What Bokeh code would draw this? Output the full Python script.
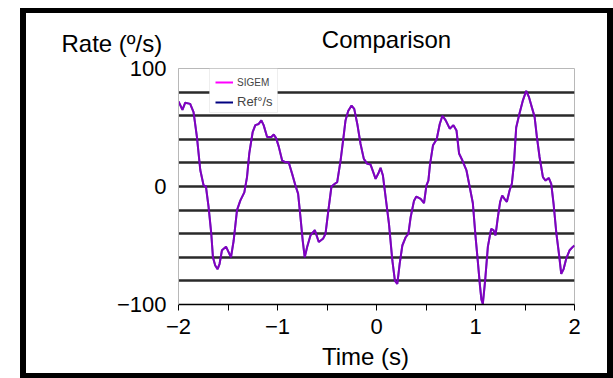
from bokeh.plotting import figure
from bokeh.models import (Range1d, FixedTicker, Label, Legend, LegendItem,
                          BoxAnnotation)
from bokeh.embed import file_html
from bokeh.resources import INLINE

# ---- data ----
time_s = [-2.000, -1.960, -1.932, -1.882, -1.848, -1.814, -1.780, -1.747, -1.723,
          -1.696, -1.669, -1.652, -1.629, -1.605, -1.585, -1.561, -1.520, -1.494,
          -1.470, -1.443, -1.409, -1.376, -1.335, -1.308, -1.285, -1.251, -1.224,
          -1.190, -1.163, -1.140, -1.105, -1.062, -1.038, -1.014, -0.988, -0.953,
          -0.920, -0.887, -0.852, -0.819, -0.792, -0.768, -0.745, -0.725, -0.700,
          -0.667, -0.623, -0.583, -0.538, -0.515, -0.482, -0.455, -0.421, -0.397,
          -0.363, -0.336, -0.313, -0.286, -0.252, -0.225, -0.194, -0.161, -0.128,
          -0.093, -0.060, -0.032, -0.009, 0.018, 0.041, 0.065, 0.092, 0.126,
          0.160, 0.186, 0.210, 0.234, 0.261, 0.295, 0.322, 0.345, 0.379,
          0.403, 0.446, 0.480, 0.504, 0.524, 0.541, 0.571, 0.608, 0.639,
          0.666, 0.699, 0.740, 0.777, 0.808, 0.834, 0.868, 0.909, 0.942,
          0.973, 1.000, 1.023, 1.045, 1.060, 1.074, 1.097, 1.125, 1.158,
          1.182, 1.202, 1.226, 1.249, 1.270, 1.293, 1.317, 1.344, 1.367,
          1.388, 1.411, 1.445, 1.479, 1.512, 1.539, 1.573, 1.597, 1.620,
          1.647, 1.681, 1.708, 1.740, 1.765, 1.789, 1.816, 1.843, 1.866,
          1.890, 1.917, 1.951, 1.985, 2.000]

ref_rate = [72, 65, 71, 70, 63, 42, 14, 1, 0,
            -17.5, -40, -60, -67, -70, -65.5, -54, -51, -55.6,
            -60, -46, -20, -12, -5, 8, 28, 46, 52,
            53, 56, 52, 42, 42, 44, 41, 34, 22,
            20.6, 20.6, 10.7, 0.8, -6, -26, -46, -60, -51,
            -41.5, -37, -47, -44, -40, -17.5, 0, 2.3, 3.7,
            22, 40, 56, 64, 68.6, 65.8, 53, 36, 23.4,
            19.2, 18.6, 12, 6.5, 11, 15.8, 9.3, -9, -31.6,
            -62.7, -79.7, -82.5, -65.5, -50, -43, -40, -26, -12,
            -8.5, -10.5, -14, 0.8, 5, 19, 35, 40, 53,
            60, 56, 49, 52, 47.5, 28, 22, 13.6, -0.6,
            -14, -42, -63, -84, -96, -99.5, -80, -51, -36,
            -37, -41.5, -26, -13, -7.6, -10.5, -13, -3.4, 2.3,
            19, 50, 62, 73, 81, 76, 66, 59, 42,
            25, 8, 5, 7.3, 2.3, -15, -39, -57, -74,
            -70, -61, -54, -51, -50]

# the SIGEM trace coincides with the reference trace in the picture
sigem_rate = list(ref_rate)

series_names = ["SIGEM", "Ref°/s"]
x_ticks = [-2, -1, 0, 1, 2]
x_minor_ticks = [-1.5, -0.5, 0.5, 1.5]
y_ticks = [-100, 0, 100]
y_grid = [-80, -60, -40, -20, 0, 20, 40, 60, 80]

FONT = "Liberation Sans"

p = figure(width=593, height=370, output_backend="svg", toolbar_location=None,
           title=None,
           x_range=Range1d(-2, 2), y_range=Range1d(-100, 100),
           min_border_left=152, min_border_right=45,
           min_border_top=55, min_border_bottom=79,
           background_fill_color="white", border_fill_color="white",
           styles={"margin-left": "20px", "margin-top": "8px",
                   "border-left": "6px solid black", "border-top": "5px solid black",
                   "border-right": "6px solid black", "border-bottom": "5px solid black"})

p.outline_line_color = "#b8b8b8"
p.outline_line_width = 1

# grid
p.xgrid.visible = False
p.ygrid.ticker = FixedTicker(ticks=y_grid)
p.ygrid.grid_line_color = "#2a2a2a"
p.ygrid.grid_line_width = 2.5

# x axis
xa = p.xaxis[0]
xa.ticker = FixedTicker(ticks=x_ticks, minor_ticks=x_minor_ticks)
xa.axis_line_color = "black"
xa.axis_line_width = 1.5
xa.major_tick_line_color = "black"
xa.minor_tick_line_color = "black"
xa.major_tick_in = 0
xa.major_tick_out = 6
xa.minor_tick_in = 0
xa.minor_tick_out = 6
xa.major_label_standoff = 8
xa.major_label_text_font = FONT
xa.major_label_text_font_size = "22px"
xa.major_label_text_color = "black"

# y axis
ya = p.yaxis[0]
ya.ticker = FixedTicker(ticks=y_ticks)
ya.axis_line_color = "#b8b8b8"
ya.major_tick_out = 0
ya.major_tick_in = 0
ya.minor_tick_out = 0
ya.minor_tick_in = 0
ya.major_label_standoff = 12
ya.major_label_text_font = FONT
ya.major_label_text_font_size = "22px"
ya.major_label_text_color = "black"

# lines: navy reference under a half-transparent magenta SIGEM trace
r_ref = p.line(time_s, ref_rate, line_color="#000080", line_width=2)
p.line(time_s, sigem_rate, line_color="#ff00ff", line_width=2, line_alpha=0.5)
# full-strength magenta renderer used only for the legend sample
r_sig_leg = p.line(time_s, sigem_rate, line_color="#ff00ff", line_width=2, visible=False)

# legend box
p.add_layout(BoxAnnotation(left=31, right=99, bottom=192, top=236,
                           left_units="screen", right_units="screen",
                           bottom_units="screen", top_units="screen",
                           fill_color="white", fill_alpha=1,
                           line_color="#c8c8c8", line_width=1, level="overlay"))

leg_a = Legend(items=[LegendItem(label=series_names[0], renderers=[r_sig_leg])],
               location=(37, 216), padding=0, margin=0, spacing=0,
               glyph_width=18, glyph_height=12, label_height=12, label_standoff=4,
               label_text_font=FONT, label_text_font_size="10px",
               border_line_alpha=0, background_fill_alpha=0,
               inactive_fill_alpha=0, click_policy="none")
leg_b = Legend(items=[LegendItem(label=series_names[1], renderers=[r_ref])],
               location=(37, 195), padding=0, margin=0, spacing=0,
               glyph_width=18, glyph_height=14, label_height=14, label_standoff=4,
               label_text_font=FONT, label_text_font_size="13px",
               border_line_alpha=0, background_fill_alpha=0)
p.add_layout(leg_a)
p.add_layout(leg_b)

# texts placed in the side panels (not clipped to the frame)
p.add_layout(Label(x=208, y=29, x_units="screen", y_units="screen",
                   text="Comparison", text_font=FONT, text_font_size="24px",
                   text_align="center", text_baseline="alphabetic", text_color="black"),
             "above")
p.add_layout(Label(x=-117, y=-2, x_units="screen", y_units="screen",
                   text="Rate (º/s)", text_font=FONT, text_font_size="24px",
                   text_align="left", text_baseline="alphabetic", text_color="black"),
             "above")
p.add_layout(Label(x=187, y=7, x_units="screen", y_units="screen",
                   text="Time (s)", text_font=FONT, text_font_size="24px",
                   text_align="center", text_baseline="alphabetic", text_color="black"),
             "below")

open("out.html", "w").write(file_html(p, INLINE))
